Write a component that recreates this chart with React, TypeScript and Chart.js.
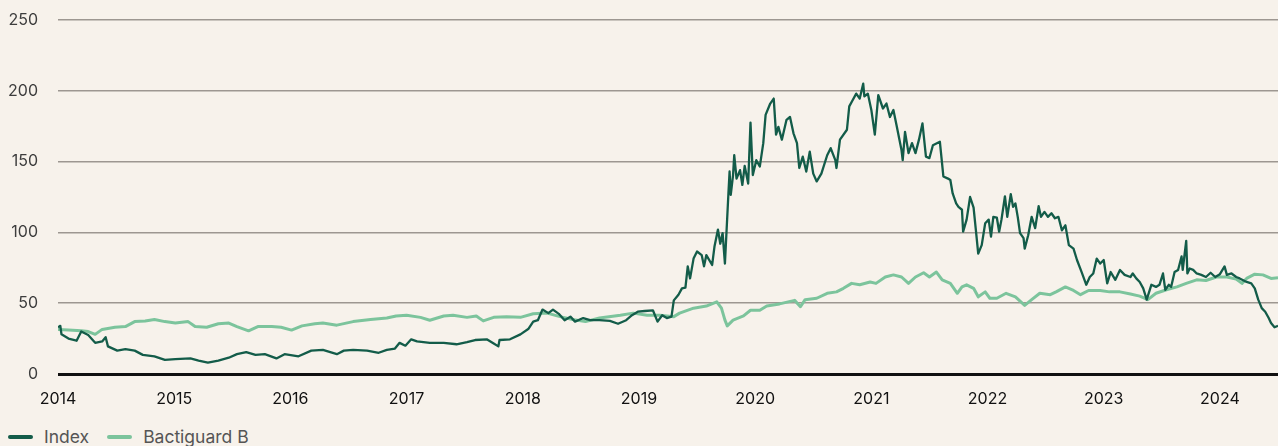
import React, { useEffect, useRef } from "react";
import { Chart, registerables } from "chart.js";

Chart.register(...registerables);

const seriesNames = ["Index", "Bactiguard B"];
const seriesColors = ["#135c49", "#7cc49c"];

const yTicks = [0, 50, 100, 150, 200, 250];
const xTickYears = [2014, 2015, 2016, 2017, 2018, 2019, 2020, 2021, 2022, 2023, 2024];

const indexYears = [
  2014.00, 2014.02, 2014.03, 2014.09, 2014.16, 2014.20, 2014.26, 2014.32, 2014.38, 2014.41,
  2014.43, 2014.51, 2014.58, 2014.66, 2014.73, 2014.83, 2014.92, 2015.01, 2015.14, 2015.21,
  2015.29, 2015.38, 2015.47, 2015.54, 2015.62, 2015.70, 2015.78, 2015.88, 2015.95, 2016.07,
  2016.18, 2016.28, 2016.40, 2016.46, 2016.54, 2016.66, 2016.76, 2016.83, 2016.90, 2016.94,
  2016.99, 2017.04, 2017.09, 2017.20, 2017.32, 2017.43, 2017.52, 2017.59, 2017.69, 2017.75,
  2017.79, 2017.80, 2017.89, 2017.98, 2018.05, 2018.09, 2018.13, 2018.17, 2018.22, 2018.26,
  2018.31, 2018.36, 2018.41, 2018.45, 2018.52, 2018.58, 2018.66, 2018.75, 2018.82, 2018.89,
  2018.94, 2018.99, 2019.05, 2019.12, 2019.16, 2019.20, 2019.24, 2019.28, 2019.30, 2019.34,
  2019.37, 2019.40, 2019.42, 2019.44, 2019.47, 2019.50, 2019.54, 2019.56, 2019.58, 2019.63,
  2019.65, 2019.68, 2019.70, 2019.72, 2019.74, 2019.77, 2019.78, 2019.79, 2019.81, 2019.82,
  2019.84, 2019.87, 2019.89, 2019.91, 2019.94, 2019.96, 2019.98, 2020.01, 2020.04, 2020.07,
  2020.09, 2020.13, 2020.16, 2020.18, 2020.20, 2020.23, 2020.27, 2020.30, 2020.33, 2020.36,
  2020.38, 2020.41, 2020.44, 2020.47, 2020.50, 2020.53, 2020.57, 2020.62, 2020.65, 2020.69,
  2020.70, 2020.73, 2020.79, 2020.81, 2020.84, 2020.87, 2020.90, 2020.93, 2020.94, 2020.97,
  2021.00, 2021.03, 2021.06, 2021.10, 2021.13, 2021.16, 2021.19, 2021.22, 2021.26, 2021.27,
  2021.29, 2021.32, 2021.35, 2021.38, 2021.41, 2021.44, 2021.47, 2021.50, 2021.53, 2021.59,
  2021.62, 2021.66, 2021.68, 2021.70, 2021.73, 2021.75, 2021.78, 2021.79, 2021.82, 2021.85,
  2021.88, 2021.90, 2021.92, 2021.95, 2021.98, 2022.01, 2022.03, 2022.05, 2022.08, 2022.10,
  2022.12, 2022.15, 2022.17, 2022.20, 2022.22, 2022.24, 2022.26, 2022.28, 2022.31, 2022.32,
  2022.35, 2022.38, 2022.41, 2022.44, 2022.46, 2022.49, 2022.52, 2022.55, 2022.58, 2022.61,
  2022.64, 2022.67, 2022.70, 2022.74, 2022.77, 2022.81, 2022.85, 2022.88, 2022.91, 2022.94,
  2022.97, 2023.00, 2023.03, 2023.06, 2023.10, 2023.14, 2023.18, 2023.23, 2023.25, 2023.28,
  2023.31, 2023.34, 2023.37, 2023.41, 2023.45, 2023.48, 2023.51, 2023.53, 2023.56, 2023.58,
  2023.61, 2023.64, 2023.67, 2023.68, 2023.71, 2023.72, 2023.74, 2023.77, 2023.80, 2023.84,
  2023.88, 2023.92, 2023.96, 2024.00, 2024.04, 2024.06, 2024.10, 2024.14, 2024.17, 2024.23,
  2024.27, 2024.30, 2024.33, 2024.36, 2024.39, 2024.42, 2024.44, 2024.47, 2024.50,
];
const indexValues = [
  33, 34, 28, 25, 23.5, 30, 27.5, 22, 23, 26,
  19.5, 16.5, 17.5, 16.5, 13.5, 12.5, 10, 10.5, 11, 9.5,
  8, 9.5, 11.5, 14, 15.5, 13.5, 14, 11, 14, 12.5,
  16.5, 17, 14, 16.5, 17, 16.5, 15, 17, 18, 22,
  20, 24.5, 23, 22, 22, 21, 22.5, 24, 24.5, 21.5,
  19.5, 24, 24.5, 28, 32, 37, 38, 45.5, 43, 45.5,
  42.5, 38, 40.5, 37, 39.5, 38, 38, 37.5, 35.5, 38,
  41.5, 44, 44.5, 45, 37, 41.5, 39.5, 40.5, 52, 56,
  60.5, 61, 76, 67.5, 81.5, 86.5, 84, 76, 84, 77,
  90, 102, 92, 99.5, 78, 127.5, 143, 126.5, 140.5, 154.5,
  138, 144, 133.5, 147, 134.5, 177.5, 140.5, 151, 146.5, 163,
  183, 191, 194.5, 169, 174.5, 165.5, 179.5, 181.5, 170, 163,
  145.5, 153.5, 143, 157, 141.5, 136, 141.5, 154.5, 159.5, 151,
  145.5, 165.5, 172.5, 189, 193.5, 198, 194.5, 205, 196, 198,
  186.5, 169, 197, 187.5, 191, 181.5, 186.5, 174.5, 158, 151,
  171, 156, 163, 156, 165.5, 177, 153.5, 152.5, 161.5, 164,
  139.5, 138, 137, 127.5, 120.5, 118, 116, 100.5, 109, 125,
  117.5, 101.5, 85, 91, 106.5, 109, 97, 111, 110.5, 100.5,
  109, 125.5, 111, 127, 118, 120.5, 111, 99.5, 96, 88.5,
  98, 111, 103, 118.5, 111, 114.5, 111, 113.5, 110, 111,
  101.5, 105, 91, 88.5, 80.5, 72, 63, 68.5, 71, 81.5,
  78, 80.5, 64, 72, 66.5, 73.5, 70, 68.5, 71, 67.5,
  65, 60.5, 52.5, 63, 61.5, 63, 71, 59.5, 63, 61.5,
  72, 73.5, 83, 73.5, 94, 71, 74.5, 73.5, 71, 70,
  68.5, 71.5, 68.5, 70.5, 76, 70, 71, 68.5, 67.5, 65,
  64, 60.5, 52.5, 46.5, 44, 39.5, 36, 33, 34,
];

const bactiguardYears = [
  2014.00, 2014.09, 2014.20, 2014.26, 2014.32, 2014.38, 2014.49, 2014.58, 2014.66, 2014.75,
  2014.83, 2014.92, 2015.01, 2015.12, 2015.18, 2015.28, 2015.38, 2015.47, 2015.54, 2015.64,
  2015.72, 2015.84, 2015.92, 2016.01, 2016.10, 2016.21, 2016.28, 2016.40, 2016.54, 2016.69,
  2016.83, 2016.91, 2017.00, 2017.12, 2017.20, 2017.32, 2017.40, 2017.52, 2017.60, 2017.66,
  2017.75, 2017.86, 2017.98, 2018.09, 2018.21, 2018.32, 2018.43, 2018.54, 2018.66, 2018.84,
  2018.95, 2019.07, 2019.18, 2019.30, 2019.35, 2019.47, 2019.58, 2019.67, 2019.71, 2019.74,
  2019.76, 2019.81, 2019.90, 2019.96, 2020.04, 2020.10, 2020.21, 2020.34, 2020.39, 2020.43,
  2020.53, 2020.62, 2020.70, 2020.76, 2020.83, 2020.90, 2020.99, 2021.04, 2021.12, 2021.19,
  2021.26, 2021.32, 2021.38, 2021.45, 2021.50, 2021.56, 2021.61, 2021.68, 2021.74, 2021.78,
  2021.82, 2021.88, 2021.92, 2021.98, 2022.02, 2022.08, 2022.16, 2022.24, 2022.32, 2022.38,
  2022.45, 2022.54, 2022.59, 2022.67, 2022.74, 2022.80, 2022.87, 2022.97, 2023.05, 2023.14,
  2023.23, 2023.31, 2023.38, 2023.45, 2023.54, 2023.63, 2023.71, 2023.80, 2023.88, 2023.97,
  2024.06, 2024.14, 2024.19, 2024.23, 2024.30, 2024.37, 2024.44, 2024.50,
];
const bactiguardValues = [
  31.5, 31, 30.5, 30, 28, 31.5, 33, 33.5, 37, 37.5,
  38.5, 37, 36, 37, 33.5, 33, 35.5, 36, 33.5, 30.5,
  33.5, 33.5, 33, 31, 34, 35.5, 36, 34.5, 37, 38.5,
  39.5, 41, 41.5, 40, 38, 41, 41.5, 40, 41, 37.5,
  40, 40.5, 40, 42.5, 43, 40.5, 38.5, 37, 39.5, 41.5,
  43, 41.5, 41.5, 40.5, 43, 46.5, 48, 51, 46.5, 38,
  34, 38, 41, 45, 45, 48, 49.5, 52, 47.5, 52.5,
  53.5, 57, 58, 60.5, 64, 63, 65, 64, 68.5, 70,
  68.5, 64, 68.5, 71.5, 68.5, 72, 66.5, 64, 57, 61.5,
  63, 60.5, 54.5, 58, 53.5, 53.5, 57, 54.5, 48.5, 52.5,
  57, 56, 58, 61.5, 59, 56, 59, 59, 58, 58,
  56.5, 55, 52.5, 57, 59.5, 61.5, 64, 66.5, 66, 68.5,
  68.5, 67, 64, 67.5, 70.5, 70, 67.5, 68,
];

const FONT = "Inter, 'Noto Sans', sans-serif";

export default function App() {
  const canvasRef = useRef<HTMLCanvasElement | null>(null);

  useEffect(() => {
    document.body.style.margin = "0";
    document.body.style.background = "#f7f2eb";
    document.body.style.overflow = "hidden";
    const canvas = canvasRef.current;
    if (!canvas) return;
    const chart = new Chart(canvas, {
      type: "line",
      data: {
        datasets: [
          {
            label: seriesNames[0],
            data: indexYears.map((x, i) => ({ x, y: indexValues[i] })),
            borderColor: seriesColors[0],
            backgroundColor: seriesColors[0],
            borderWidth: 2.3,
            pointRadius: 0,
            tension: 0,
            borderJoinStyle: "round",
          },
          {
            label: seriesNames[1],
            data: bactiguardYears.map((x, i) => ({ x, y: bactiguardValues[i] })),
            borderColor: seriesColors[1],
            backgroundColor: seriesColors[1],
            borderWidth: 3,
            pointRadius: 0,
            tension: 0,
            borderJoinStyle: "round",
          },
        ],
      },
      options: {
        animation: false,
        responsive: false,
        maintainAspectRatio: false,
        layout: { padding: { top: 20, right: 0, bottom: 0, left: 0 } },
        plugins: {
          legend: { display: false },
          tooltip: { enabled: false },
        },
        scales: {
          x: {
            type: "linear",
            min: 2014,
            max: 2024.5,
            afterFit: (s: any) => {
              s.height = 36;
            },
            grid: { display: false, drawTicks: false },
            border: { display: false },
            ticks: {
              stepSize: 1,
              includeBounds: false,
              autoSkip: false,
              maxRotation: 0,
              padding: 16,
              color: "#111111",
              font: { family: FONT, size: 16 },
              callback: (v: any) => (xTickYears.includes(Number(v)) ? String(v) : ""),
            },
          },
          y: {
            min: 0,
            max: 250,
            afterFit: (s: any) => {
              s.width = 58;
              s.paddingTop = 0;
              s.paddingBottom = 0;
            },
            grid: {
              drawTicks: false,
              color: (c: any) => (c.tick && c.tick.value === 0 ? "#111111" : "#9d9791"),
              lineWidth: (c: any) => (c.tick && c.tick.value === 0 ? 3 : 1.5),
            },
            border: { display: false },
            ticks: {
              stepSize: 50,
              padding: 20,
              color: "#3d3d3d",
              font: { family: FONT, size: 16 },
              callback: (v: any) => (yTicks.includes(Number(v)) ? String(v) : ""),
            },
          },
        },
      },
    });
    return () => chart.destroy();
  }, []);

  const legendItem = (i: number, ml: number) => (
    <div style={{ display: "flex", alignItems: "center", marginLeft: ml }}>
      <span
        style={{
          display: "inline-block",
          width: 25,
          height: 4,
          borderRadius: 2,
          background: seriesColors[i],
          marginRight: 11,
        }}
      />
      <span>{seriesNames[i]}</span>
    </div>
  );

  return (
    <div
      style={{
        position: "absolute",
        left: 0,
        top: 0,
        width: 1278,
        height: 446,
        background: "#f7f2eb",
        overflow: "hidden",
      }}
    >
      <canvas ref={canvasRef} width={1278} height={410} style={{ display: "block", width: 1278, height: 410 }} />
      <div
        style={{
          position: "absolute",
          left: 8,
          top: 427,
          height: 20,
          lineHeight: "20px",
          display: "flex",
          alignItems: "center",
          fontFamily: FONT,
          fontSize: 17.5,
          color: "#555555",
        }}
      >
        {legendItem(0, 0)}
        {legendItem(1, 18)}
      </div>
    </div>
  );
}
